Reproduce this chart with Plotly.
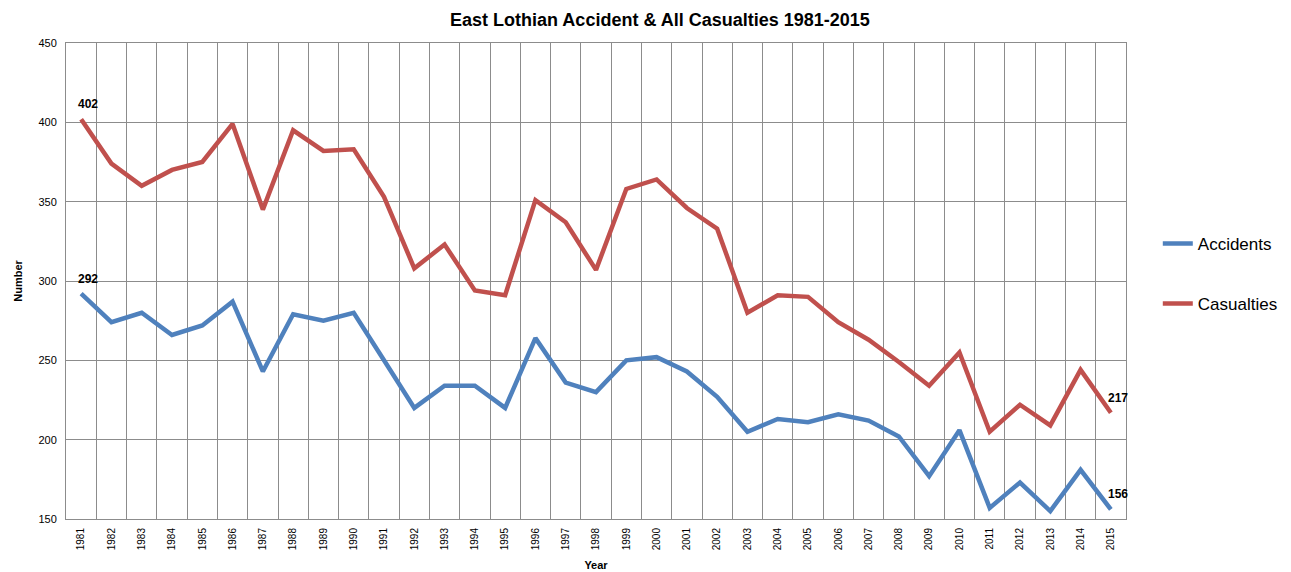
import plotly.graph_objects as go

years = [str(y) for y in range(1981, 2016)]
accidents = [292, 274, 280, 266, 272, 287, 243, 279, 275, 280, 250, 220, 234, 234, 220,
             264, 236, 230, 250, 252, 243, 227, 205, 213, 211, 216, 212, 202, 177, 206,
             157, 173, 155, 181, 156]
casualties = [402, 374, 360, 370, 375, 399, 345, 395, 382, 383, 353, 308, 323, 294, 291,
              351, 337, 307, 358, 364, 346, 333, 280, 291, 290, 274, 263, 249, 234, 255,
              205, 222, 209, 244, 217]
y_ticks = [150, 200, 250, 300, 350, 400, 450]

FONT = "Liberation Sans"
fig = go.Figure()
fig.add_trace(go.Scatter(x=years, y=accidents, mode="lines", name="Accidents",
                         legendgroup="a", line=dict(color="#4F81BD", width=4.5)))
fig.add_trace(go.Scatter(x=years, y=casualties, mode="lines", name="Casualties",
                         legendgroup="c", line=dict(color="#C0504D", width=4.5)))

for series in (accidents, casualties):
    for idx in (0, len(series) - 1):
        fig.add_annotation(x=idx, y=series[idx], xref="x", yref="y",
                           text="<b>%d</b>" % series[idx],
                           showarrow=False, yshift=15, xshift=7,
                           font=dict(family=FONT, size=12, color="#000000"))

fig.update_layout(
    width=1291, height=572,
    margin=dict(l=58, r=173, t=35, b=61),
    paper_bgcolor="white", plot_bgcolor="white",
    title=dict(text="<b>East Lothian Accident & All Casualties 1981-2015</b>",
               x=0.505, xanchor="center", y=0.99, yanchor="top",
               font=dict(family=FONT, size=18, color="#000000")),
    legend=dict(x=1.03, y=0.515, xanchor="left", yanchor="middle",
                font=dict(family=FONT, size=17, color="#000000"),
                tracegroupgap=35, itemwidth=30, bgcolor="rgba(0,0,0,0)"),
    showlegend=True,
)
fig.update_xaxes(type="category", tickson="boundaries", range=[-0.5, len(years) - 0.5],
                 automargin=False,
                 showgrid=True, gridcolor="#8c8c8c", gridwidth=1,
                 showline=True, linecolor="#8c8c8c", mirror=True,
                 tickangle=-90, ticks="", ticklabelstandoff=4,
                 tickfont=dict(family=FONT, size=10, color="#000000"),
                 title=dict(text="<b>Year</b>", font=dict(family=FONT, size=11, color="#000000"),
                            standoff=12))
fig.update_yaxes(range=[150, 450], tickvals=y_ticks, showgrid=True, gridcolor="#8c8c8c",
                 automargin=False,
                 gridwidth=1, showline=True, linecolor="#8c8c8c", mirror=True, zeroline=False,
                 ticks="", ticklabelstandoff=6,
                 tickfont=dict(family=FONT, size=11, color="#000000"),
                 title=dict(text="<b>Number</b>", font=dict(family=FONT, size=11, color="#000000"),
                            standoff=13))

fig.write_html("out.html")
